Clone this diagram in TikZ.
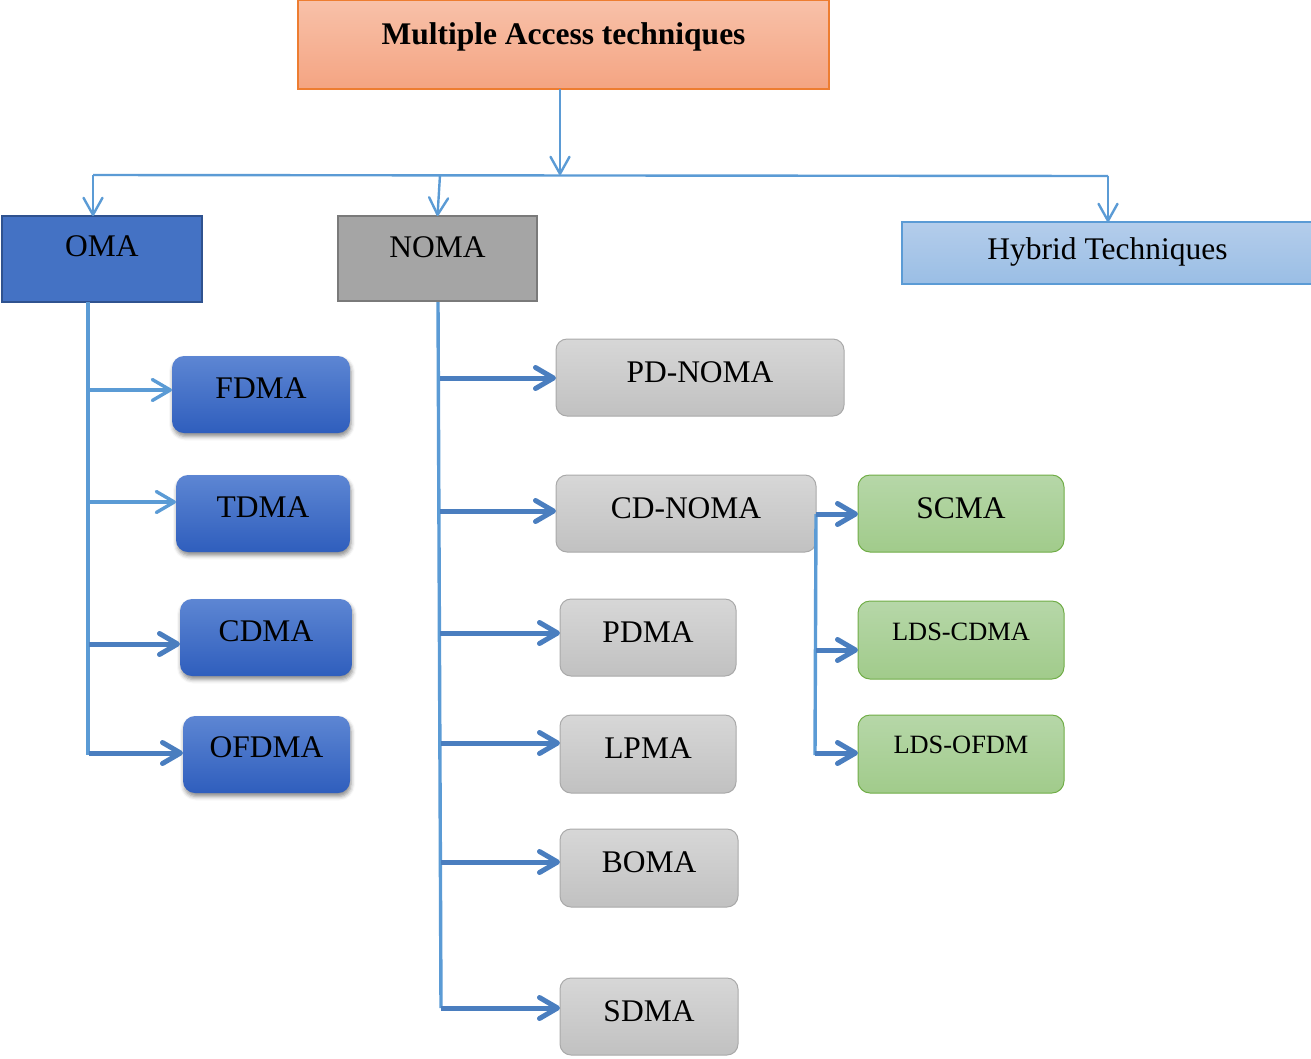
\documentclass[tikz,border=0pt]{standalone}
\usepackage{fontspec}
\setmainfont{Liberation Serif}
\usetikzlibrary{arrows.meta,shadows.blur}
\definecolor{lnblue}{HTML}{5B9BD5}
\definecolor{lnblueD}{HTML}{4A7EBF}
\definecolor{ttop}{HTML}{F8C1A9}
\definecolor{tbot}{HTML}{F4A482}
\definecolor{tbrd}{HTML}{ED7D31}
\definecolor{omaf}{HTML}{4472C4}
\definecolor{omab}{HTML}{2F528F}
\definecolor{nomaf}{HTML}{A5A5A5}
\definecolor{nomab}{HTML}{7A7A7A}
\definecolor{htop}{HTML}{B4CDEB}
\definecolor{hbot}{HTML}{9ABEE5}
\definecolor{btop}{HTML}{5D86D3}
\definecolor{bbot}{HTML}{2F5EBD}
\definecolor{gtop}{HTML}{D7D7D7}
\definecolor{gbot}{HTML}{C1C1C1}
\definecolor{gbrd}{HTML}{A9A9A9}
\definecolor{ntop}{HTML}{B6D7A8}
\definecolor{nbot}{HTML}{A1CB8B}
\definecolor{nbrd}{HTML}{70AD47}
\begin{document}
\begin{tikzpicture}[x=1pt,y=-1pt,
  bx/.style={rectangle, inner sep=0pt, outer sep=0pt},
  big/.style={font=\fontsize{31.5}{36}\selectfont, text height=21pt, text depth=0pt, inner sep=0pt},
  small/.style={font=\fontsize{26.4}{30}\selectfont, text height=17.5pt, text depth=0pt, inner sep=0pt},
  titlebox/.style={bx, draw=tbrd, line width=1.2pt, top color=ttop, bottom color=tbot},
  omabox/.style={bx, draw=omab, line width=2.2pt, fill=omaf},
  nomabox/.style={bx, draw=nomab, line width=2.2pt, fill=nomaf},
  hybbox/.style={bx, draw=lnblue, line width=1.4pt, top color=htop, bottom color=hbot},
  bluebox/.style={bx, rounded corners=12pt, top color=btop, bottom color=bbot,
    blur shadow={shadow xshift=1pt, shadow yshift=-3.5pt, shadow blur radius=4pt, shadow opacity=45}},
  graybox/.style={bx, rounded corners=11pt, draw=gbrd, line width=1pt, top color=gtop, bottom color=gbot},
  greenbox/.style={bx, rounded corners=12pt, draw=nbrd, line width=1pt, top color=ntop, bottom color=nbot},
  thinln/.style={draw=lnblue, line width=2.4pt},
  thinarr/.style={thinln, -{Straight Barb[length=17pt, width=19pt, round]}},
  trunk/.style={draw=lnblue, line width=3.4pt},
  medarr/.style={draw=lnblue, line width=3.4pt, -{Straight Barb[length=18pt, width=21pt, round]}},
  thkarr/.style={draw=lnblueD, line width=5pt, -{Straight Barb[length=18pt, width=21pt, round]}},
]
\useasboundingbox (0,0) rectangle (1311,1058);

% root and first level
\node[titlebox, minimum width=531, minimum height=89,
  label={[big, font=\fontsize{31.5}{36}\selectfont\bfseries, yshift=10.5pt]center:Multiple Access techniques}]
  (mat) at (563.5,44.5) {};
\node[omabox, minimum width=200, minimum height=86, label={[big, yshift=13pt]center:OMA}] (oma) at (102,259) {};
\node[nomabox, minimum width=199, minimum height=85, label={[big, yshift=11.5pt]center:NOMA}] (noma) at (437.5,258.5) {};
\node[hybbox, minimum width=411, minimum height=62, label={[big, yshift=4pt]center:Hybrid Techniques}] (hyb) at (1107.5,253) {};

% orthogonal schemes
\node[bluebox, minimum width=178, minimum height=77, label={[big, yshift=7pt]center:FDMA}] (fdma) at (261,394.5) {};
\node[bluebox, minimum width=174, minimum height=77, label={[big, yshift=6.5pt]center:TDMA}] (tdma) at (263,513.5) {};
\node[bluebox, minimum width=172, minimum height=77, label={[big, yshift=6.5pt]center:CDMA}] (cdma) at (266,637.5) {};
\node[bluebox, minimum width=167, minimum height=77, label={[big, yshift=7.5pt]center:OFDMA}] (ofdma) at (266.5,754.5) {};

% non-orthogonal schemes
\node[graybox, minimum width=288, minimum height=77, label={[big, yshift=5.5pt]center:PD-NOMA}] (pdnoma) at (700,377.5) {};
\node[graybox, minimum width=260, minimum height=77, label={[big, yshift=5.5pt]center:CD-NOMA}] (cdnoma) at (686,513.5) {};
\node[graybox, minimum width=176, minimum height=77, label={[big, yshift=5.5pt]center:PDMA}] (pdma) at (648,637.5) {};
\node[graybox, minimum width=176, minimum height=78, label={[big, yshift=6pt]center:LPMA}] (lpma) at (648,754) {};
\node[graybox, minimum width=178, minimum height=78, label={[big, yshift=6pt]center:BOMA}] (boma) at (649,868) {};
\node[graybox, minimum width=178, minimum height=77, label={[big, yshift=5.5pt]center:SDMA}] (sdma) at (649,1016.5) {};

% code-domain schemes
\node[greenbox, minimum width=206, minimum height=77, label={[big, yshift=5.5pt]center:SCMA}] (scma) at (961,513.5) {};
\node[greenbox, minimum width=206, minimum height=78, label={[small, yshift=8pt]center:LDS-CDMA}] (ldscdma) at (961,640) {};
\node[greenbox, minimum width=206, minimum height=78, label={[small, yshift=9pt]center:LDS-OFDM}] (ldsofdm) at (961,754) {};

% top distribution bus
\coordinate (bus) at (560,175);
\coordinate (busL) at (93,175);
\coordinate (busN) at (440,175);
\coordinate (busR) at (1108,176);
\draw[thinarr] (mat.south -| bus) -- (bus);
\draw[thinln] (busL) -- (busR);
\draw[thinarr] (busL) -- (busL |- oma.north);
\draw[thinarr] (busN) -- (noma.north);
\draw[thinarr] (busR) -- (busR |- hyb.north);

% OMA branch
\coordinate (ob) at (88,755);
\coordinate (o1) at (89,390);
\coordinate (o2) at (89,502);
\coordinate (o3) at (89,644);
\coordinate (o4) at (89,753);
\draw[trunk] (oma.south -| ob) -- (ob);
\draw[medarr] (o1) -- (o1 -| fdma.west);
\draw[medarr] (o2) -- (o2 -| tdma.west);
\draw[thkarr] (o3) -- (o3 -| cdma.west);
\draw[thkarr] (o4) -- (o4 -| ofdma.west);

% NOMA branch
\coordinate (nt) at (438,302);
\coordinate (nb) at (441,1008);
\coordinate (n1) at (440,378);
\coordinate (n2) at (440,511);
\coordinate (n3) at (440,633);
\coordinate (n4) at (441,743);
\coordinate (n5) at (441,862);
\draw[trunk] (nt) -- (nb);
\draw[thkarr] (n1) -- (n1 -| pdnoma.west);
\draw[thkarr] (n2) -- (n2 -| cdnoma.west);
\draw[thkarr] (n3) -- (n3 -| pdma.west);
\draw[thkarr] (n4) -- (n4 -| lpma.west);
\draw[thkarr] (n5) -- (n5 -| boma.west);
\draw[thkarr] (nb) -- (nb -| sdma.west);

% CD-NOMA branch
\coordinate (c1) at (816,514);
\coordinate (cb) at (815,755);
\coordinate (c2) at (816,650);
\coordinate (c3) at (815,753);
\draw[trunk] (c1) -- (cb);
\draw[thkarr] (c1) -- (c1 -| scma.west);
\draw[thkarr] (c2) -- (c2 -| ldscdma.west);
\draw[thkarr] (c3) -- (c3 -| ldsofdm.west);
\end{tikzpicture}
\end{document}
